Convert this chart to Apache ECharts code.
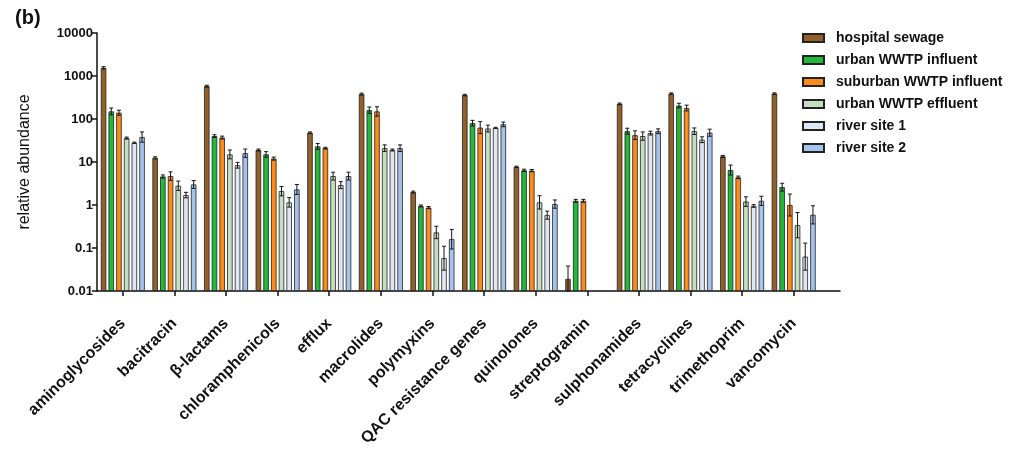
<!DOCTYPE html>
<html><head><meta charset="utf-8">
<script src="https://cdn.jsdelivr.net/npm/echarts@6/dist/echarts.min.js"></script>
<style>html,body{margin:0;padding:0;background:#fff}#c{width:1023px;height:449px}</style>
</head><body><div id="c"></div><script>
const categories = ['aminoglycosides','bacitracin','β-lactams','chloramphenicols','efflux','macrolides','polymyxins','QAC resistance genes','quinolones','streptogramin','sulphonamides','tetracyclines','trimethoprim','vancomycin'];
const seriesNames = ['hospital sewage','urban WWTP influent','suburban WWTP influent','urban WWTP effluent','river site 1','river site 2'];
const yTickLabels = ['0.01','0.1','1','10','100','1000','10000'];

const hospitalSewage   = [1550, 12.5, 580, 19, 48, 380, 2.0, 360, 7.7, 0.019, 225, 390, 13.5, 390];
const urbanInfluent    = [150, 4.6, 40, 15, 23, 160, 0.95, 80, 6.4, 1.25, 52, 205, 6.5, 2.6];
const suburbanInfluent = [140, 4.7, 37, 12, 21, 150, 0.87, 63, 6.3, 1.25, 42, 180, 4.4, 1.0];
const urbanEffluent    = [36, 2.8, 15, 2.1, 4.7, 21, 0.23, 60, 1.15, null, 40, 52, 1.2, 0.34];
const riverSite1       = [28, 1.7, 8.4, 1.15, 2.9, 19, 0.058, 62, 0.58, null, 47, 33, 0.95, 0.063];
const riverSite2       = [38, 3.0, 16, 2.3, 4.7, 21, 0.16, 75, 1.05, null, 52, 48, 1.25, 0.59];

// upper ends of the error bars
const errHospitalSewage   = [1650, 13.2, 610, 20, 50, 400, 2.1, 375, 8.0, 0.038, 235, 405, 14.2, 405];
const errUrbanInfluent    = [180, 5.0, 43, 17.4, 27, 190, 1.0, 93, 6.8, 1.35, 61, 232, 8.5, 3.2];
const errSuburbanInfluent = [160, 5.9, 40, 13, 22, 193, 0.92, 87, 6.7, 1.35, 53, 210, 4.7, 1.8];
const errUrbanEffluent    = [38, 3.6, 19, 2.7, 5.8, 25, 0.32, 72, 1.64, null, 50, 62, 1.55, 0.67];
const errRiverSite1       = [29, 1.97, 9.8, 1.48, 3.5, 20, 0.11, 64, 0.72, null, 52, 38.5, 1.02, 0.13];
const errRiverSite2       = [50, 3.7, 20, 3.0, 5.8, 25, 0.27, 85, 1.31, null, 59, 58, 1.6, 0.96];

const values = [hospitalSewage, urbanInfluent, suburbanInfluent, urbanEffluent, riverSite1, riverSite2];
const errs = [errHospitalSewage, errUrbanInfluent, errSuburbanInfluent, errUrbanEffluent, errRiverSite1, errRiverSite2];
const colors = ['#93602a', '#22b83a', '#ff8a1c', '#c6dfc2', '#e0e7f3', '#a6c3ec'];

const BAR_W = 5.5, BAR_GAP = 0.4;
const FONT = "'Liberation Sans', Arial, sans-serif";

const chart = echarts.init(document.getElementById('c'), null, {renderer: 'canvas'});

const series = [];
values.forEach((vals, i) => {
  series.push({
    type: 'bar', name: seriesNames[i], xAxisIndex: 0, yAxisIndex: 0,
    data: vals, barWidth: BAR_W, barGap: (BAR_GAP * 100) + '%',
    itemStyle: {color: colors[i], borderColor: '#222', borderWidth: 0.8},
    emphasis: {disabled: true}
  });
});
values.forEach((vals, i) => {
  const data = [];
  vals.forEach((v, k) => { if (v != null && errs[i][k] != null) data.push([k, v, errs[i][k]]); });
  series.push({
    type: 'custom', name: seriesNames[i] + ' error', xAxisIndex: 0, yAxisIndex: 0, z: 5,
    data: data, silent: true,
    renderItem: function (params, api) {
      const k = api.value(0), v = api.value(1), hi = api.value(2);
      const lo = Math.max(v * v / hi, 0.01);
      const c = api.coord([k, v]);
      const x = c[0] + (i - 2.5) * BAR_W * (1 + BAR_GAP);
      const yHi = api.coord([k, hi])[1], yLo = api.coord([k, lo])[1];
      const st = {stroke: '#151515', lineWidth: 1};
      return {type: 'group', children: [
        {type: 'line', shape: {x1: x, y1: yHi, x2: x, y2: yLo}, style: st},
        {type: 'line', shape: {x1: x - 2, y1: yHi, x2: x + 2, y2: yHi}, style: st},
        {type: 'line', shape: {x1: x - 2, y1: yLo, x2: x + 2, y2: yLo}, style: st}
      ]};
    }
  });
});

chart.setOption({
  animation: false,
  backgroundColor: '#fff',
  title: {text: '(b)', left: 15, top: 8, padding: 0, textStyle: {fontFamily: FONT, fontWeight: 'bold', fontSize: 20, color: '#111'}},
  legend: {
    orient: 'vertical', left: 802, top: 31, padding: 0, itemWidth: 21, itemHeight: 8, itemGap: 8,
    icon: 'rect', data: seriesNames,
    textStyle: {fontFamily: FONT, fontWeight: 'bold', fontSize: 14, color: '#111', padding: [0, 0, 0, 7]}
  },
  grid: [
    {left: 97, right: 1023 - 819.5, top: 33, bottom: 449 - 291},
    {left: 97, right: 1023 - 840, top: 33, bottom: 449 - 291}
  ],
  xAxis: [
    {type: 'category', gridIndex: 0, data: categories,
     axisLine: {show: false},
     axisTick: {show: true, alignWithLabel: true, length: 5, lineStyle: {color: '#111', width: 1.5}},
     axisLabel: {interval: 0, rotate: 45, margin: 30, fontFamily: FONT, fontWeight: 'bold', fontSize: 16, color: '#111'}},
    {type: 'value', gridIndex: 1, min: 0, max: 1,
     axisLine: {show: true, lineStyle: {color: '#111', width: 1.5}},
     axisTick: {show: false}, axisLabel: {show: false}, splitLine: {show: false}}
  ],
  yAxis: [
    {type: 'log', gridIndex: 0, logBase: 10, min: 0.01, max: 10000, startValue: 0.01,
     axisLine: {show: true, lineStyle: {color: '#111', width: 1.5}},
     axisTick: {show: true, length: 5, lineStyle: {color: '#111', width: 1.5}},
     splitLine: {show: false},
     axisLabel: {margin: 4, fontFamily: FONT, fontWeight: 'bold', fontSize: 13, color: '#111',
       formatter: function (v) { const s = yTickLabels.find(t => Math.abs(+t - v) / v < 1e-6); return s || ''; }},
     name: 'relative abundance', nameLocation: 'middle', nameGap: 64,
     nameTextStyle: {fontFamily: FONT, fontSize: 16, color: '#111'}},
    {type: 'value', gridIndex: 1, show: false}
  ],
  series: series
});
</script></body></html>
